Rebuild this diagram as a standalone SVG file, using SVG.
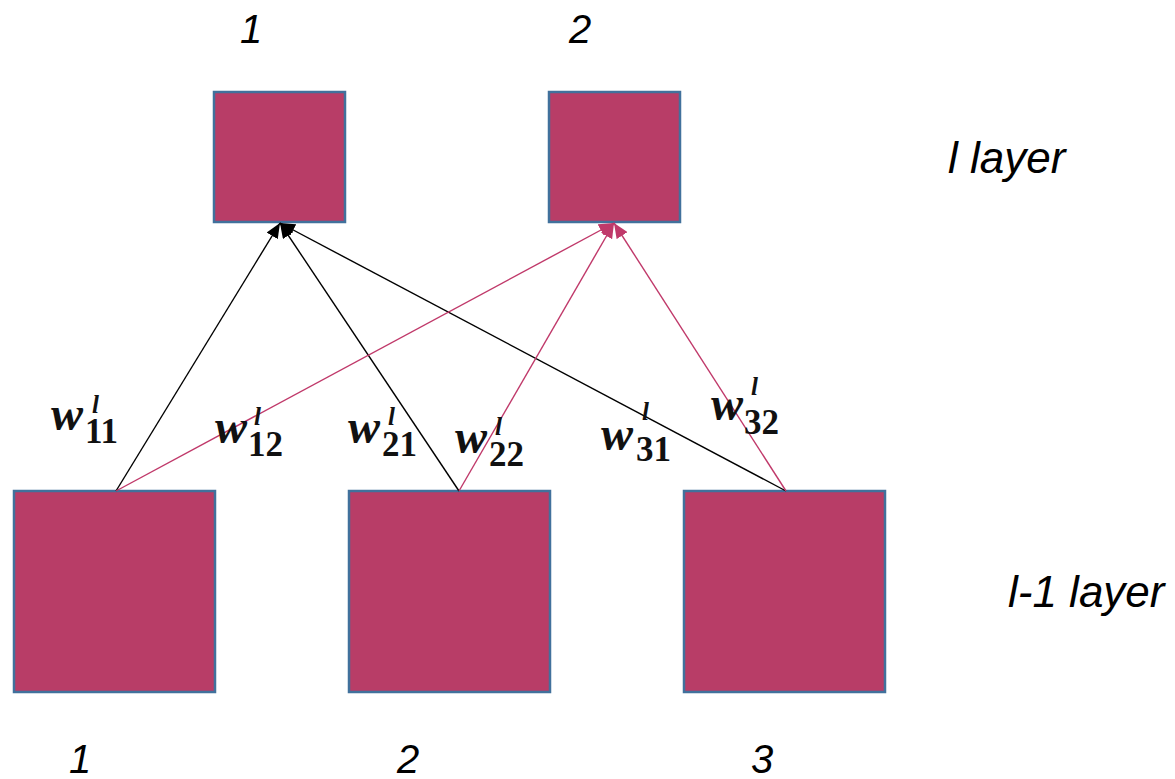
<svg xmlns="http://www.w3.org/2000/svg" width="1175" height="779" viewBox="0 0 1175 779">
<style>
.box{fill:#B83D67;stroke:#41719C;stroke-width:2.5}
.lbl{font-family:"Liberation Sans",Arial,sans-serif;font-style:italic;fill:#000}
.num{font-size:40px}
.lay{font-size:44px}
.w{font-family:"Liberation Serif",serif;font-style:italic;font-weight:bold;font-size:48px;fill:#111}
.sub{font-style:normal;font-size:35px}
.sup{font-size:25px}
.cb{stroke:#000;stroke-width:1.4;fill:none}
.cp{stroke:#C0396A;stroke-width:1.4;fill:none}
</style>
<defs>
<marker id="ab" markerUnits="userSpaceOnUse" markerWidth="16" markerHeight="13" refX="15" refY="6.5" orient="auto"><path d="M0,0 L15,6.5 L0,13 z" fill="#000"/></marker>
<marker id="ap" markerUnits="userSpaceOnUse" markerWidth="16" markerHeight="13" refX="15" refY="6.5" orient="auto"><path d="M0,0 L15,6.5 L0,13 z" fill="#C0396A"/></marker>
</defs>
<rect width="1175" height="779" fill="#fff"/>
<g id="top1"><rect class="box" x="214" y="92" width="131" height="130"/></g>
<g id="top2"><rect class="box" x="549" y="92" width="131" height="130"/></g>
<g id="bot1"><rect class="box" x="14" y="491" width="201" height="201"/></g>
<g id="bot2"><rect class="box" x="349" y="491" width="201" height="201"/></g>
<g id="bot3"><rect class="box" x="684" y="491" width="201" height="201"/></g>
<g id="connectors">
<line class="cb" x1="116" y1="491" x2="280" y2="223" marker-end="url(#ab)"/>
<line class="cb" x1="459" y1="491" x2="280" y2="223" marker-end="url(#ab)"/>
<line class="cb" x1="786" y1="491" x2="280" y2="223" marker-end="url(#ab)"/>
<line class="cp" x1="116" y1="491" x2="614" y2="223" marker-end="url(#ap)"/>
<line class="cp" x1="459" y1="491" x2="614" y2="223" marker-end="url(#ap)"/>
<line class="cp" x1="786" y1="491" x2="614" y2="223" marker-end="url(#ap)"/>
</g>
<g id="labels">
<text class="lbl num" x="251" y="43" text-anchor="middle">1</text>
<text class="lbl num" x="580" y="43" text-anchor="middle">2</text>
<text class="lbl num" x="80" y="773" text-anchor="middle">1</text>
<text class="lbl num" x="408" y="773" text-anchor="middle">2</text>
<text class="lbl num" x="762" y="773" text-anchor="middle">3</text>
<text class="lbl lay" x="948" y="173">l layer</text>
<text class="lbl lay" x="1008" y="607">l-1 layer</text>
</g>
<g id="weights">
<text class="w" x="51" y="430">w<tspan class="sup" x="92" y="413">l</tspan><tspan class="sub" x="85" y="443">11</tspan></text>
<text class="w" x="215" y="443">w<tspan class="sup" x="254" y="425">l</tspan><tspan class="sub" x="248" y="456">12</tspan></text>
<text class="w" x="348" y="443">w<tspan class="sup" x="388" y="425">l</tspan><tspan class="sub" x="382" y="456">21</tspan></text>
<text class="w" x="455" y="453">w<tspan class="sup" x="495" y="435">l</tspan><tspan class="sub" x="489" y="466">22</tspan></text>
<text class="w" x="601" y="450">w<tspan class="sup" x="642" y="420">l</tspan><tspan class="sub" x="636" y="461">31</tspan></text>
<text class="w" x="711" y="420">w<tspan class="sup" x="751" y="395">l</tspan><tspan class="sub" x="744" y="434">32</tspan></text>
</g>
</svg>
